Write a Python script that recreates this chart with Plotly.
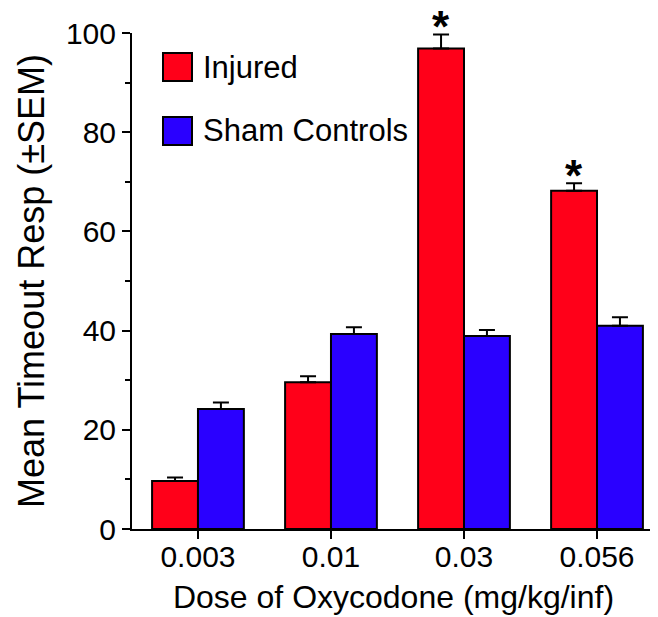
import plotly.graph_objects as go

doses = ["0.003", "0.01", "0.03", "0.056"]
injured = [9.7, 29.6, 96.9, 68.2]
injured_sem = [0.7, 1.2, 2.8, 1.5]
sham = [24.2, 39.3, 38.9, 41.0]
sham_sem = [1.3, 1.4, 1.2, 1.7]
significant = [False, False, True, True]

FONT = "Liberation Sans, Arial, Helvetica, sans-serif"
RED = "#ff0019"
BLUE = "#2a00ff"

# page body has an 8px margin; figure is sized to fit the 658x617 window
W, H = 650, 609
ML, MR, MT, MB = 124, 3, 25, 88
PW, PH = W - ML - MR, H - MT - MB

fig = go.Figure()
fig.add_trace(go.Bar(
    x=doses, y=injured, name="Injured",
    marker=dict(color=RED, line=dict(color="black", width=2)),
    error_y=dict(type="data", array=injured_sem, arrayminus=[0]*4, symmetric=False,
                 color="black", thickness=2, width=8),
))
fig.add_trace(go.Bar(
    x=doses, y=sham, name="Sham Controls",
    marker=dict(color=BLUE, line=dict(color="black", width=2)),
    error_y=dict(type="data", array=sham_sem, arrayminus=[0]*4, symmetric=False,
                 color="black", thickness=2, width=8),
))

# significance asterisks above injured bars
for i, d in enumerate(doses):
    if significant[i]:
        fig.add_annotation(x=i, y=injured[i] + injured_sem[i], xref="x", yref="y",
                           text="<b>*</b>", showarrow=False, xshift=-23, borderpad=0,
                           yanchor="bottom", yshift=-18,
                           font=dict(family=FONT, size=44, color="black"))

# custom legend (large square swatches)
legend_items = [("Injured", RED, 0.0), ("Sham Controls", BLUE, 1.0)]
for name, col, k in legend_items:
    top = 53 + k * 64 - 8  # figure pixels
    fig.add_shape(type="rect", xref="paper", yref="paper",
                  x0=(163 - 8 - ML) / PW, x1=(192 - 8 - ML) / PW,
                  y0=1 - (top + 28 - MT) / PH, y1=1 - (top - MT) / PH,
                  fillcolor=col, line=dict(color="black", width=2))
    fig.add_annotation(xref="paper", yref="paper",
                       x=(201 - 8 - ML) / PW, y=1 - (top + 14 - MT) / PH,
                       text=name, showarrow=False, xanchor="left", yanchor="middle",
                       font=dict(family=FONT, size=31, color="black"))

fig.update_layout(
    width=W, height=H,
    margin=dict(l=ML, r=MR, t=MT, b=MB),
    paper_bgcolor="white", plot_bgcolor="white",
    barmode="group", bargap=0.31, bargroupgap=0,
    showlegend=False,
    font=dict(family=FONT, color="black"),
)
fig.update_xaxes(
    range=[-0.496, 3.436], showline=True, linecolor="black", linewidth=2,
    ticks="outside", ticklen=8, tickwidth=2, tickcolor="black",
    ticklabelstandoff=-8,
    showgrid=False, zeroline=False,
    tickfont=dict(size=30, family=FONT),
    title=dict(text="Dose of Oxycodone (mg/kg/inf)", font=dict(size=32, family=FONT), standoff=14),
)
fig.update_yaxes(
    range=[0, 100], showline=True, linecolor="black", linewidth=2,
    tickmode="array", tickvals=[0, 20, 40, 60, 80, 100],
    ticks="outside", ticklen=8, tickwidth=2, tickcolor="black",
    minor=dict(tickvals=[10, 30, 50, 70, 90], ticks="outside", ticklen=5, tickwidth=2, tickcolor="black"),
    showgrid=False, zeroline=False,
    tickfont=dict(size=30, family=FONT),
    title=dict(text="Mean Timeout Resp (±SEM)", font=dict(size=36, family=FONT), standoff=10),
)

fig.write_html("out.html")
